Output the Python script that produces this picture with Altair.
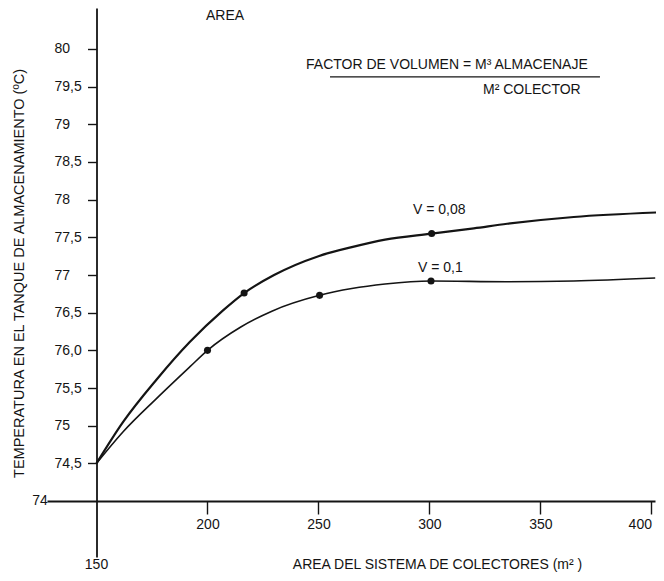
import altair as alt
import pandas as pd

# ---- data ----
x_v008 = [150, 162, 177, 192, 207, 216.5, 230, 250, 265, 280, 301, 320, 335, 365, 402.5]
y_v008 = [74.50, 75.05, 75.61, 76.11, 76.53, 76.76, 77.00, 77.25, 77.37, 77.47, 77.55, 77.62, 77.68, 77.77, 77.83]
x_v01 = [150, 162, 177, 192, 200, 215, 229, 250.5, 265, 280, 300.7, 335, 365, 401.7]
y_v01 = [74.50, 74.92, 75.36, 75.78, 76.00, 76.31, 76.52, 76.73, 76.82, 76.88, 76.92, 76.91, 76.92, 76.96]

pts_v008_x = [216.5, 301]
pts_v008_y = [76.76, 77.55]
pts_v01_x = [200, 250.5, 300.7]
pts_v01_y = [76.00, 76.73, 76.92]

x_ticks = [200, 250, 300, 350, 400]
y_ticks = [74.5, 75, 75.5, 76, 76.5, 77, 77.5, 78, 78.5, 79, 79.5, 80]

series_names = ["V = 0,08", "V = 0,1"]

FONT = "Liberation Sans"
INK = "#141414"

lines = pd.DataFrame(
    [{"x": a, "y": b, "s": series_names[0]} for a, b in zip(x_v008, y_v008)]
    + [{"x": a, "y": b, "s": series_names[1]} for a, b in zip(x_v01, y_v01)]
)
points = pd.DataFrame(
    [{"x": a, "y": b} for a, b in zip(pts_v008_x, pts_v008_y)]
    + [{"x": a, "y": b} for a, b in zip(pts_v01_x, pts_v01_y)]
)

xscale = alt.Scale(domain=[127.7, 401.6], nice=False, zero=False)
yscale = alt.Scale(domain=[73.257, 80.544], nice=False, zero=False)

xaxis = alt.Axis(
    values=x_ticks, grid=False, offset=-56, tickSize=13, tickWidth=1.4,
    tickColor=INK, domainColor=INK, domainWidth=1.8,
    labelFont=FONT, labelFontSize=14, labelColor=INK, labelPadding=3,
    labelFlush=10,
    title="AREA DEL SISTEMA DE COLECTORES (m² )", titleFont=FONT,
    titleFontSize=14, titleFontWeight="normal", titleColor=INK,
    titleX=390, titleY=63, titleAlign="center", titleBaseline="middle",
)
yaxis = alt.Axis(
    values=y_ticks, grid=False, offset=-49.5, tickSize=9, tickWidth=1.4,
    tickColor=INK, domainColor=INK, domainWidth=1.8,
    labelFont=FONT, labelFontSize=14, labelColor=INK, labelPadding=33.5,
    labelAlign="left", labelBaseline="middle",
    labelExpr="datum.value == 76 ? '76,0' : replace(toString(datum.value), '.', ',')",
    title="TEMPERATURA EN EL TANQUE DE ALMACENAMIENTO (ºC)", titleFont=FONT,
    titleFontSize=14.5, titleFontWeight="normal", titleColor=INK,
    titleX=-77.5, titleY=265, titleAngle=-90, titleAlign="center",
    titleBaseline="middle",
)

line_layer = alt.Chart(lines).mark_line(interpolate="monotone", color=INK).encode(
    x=alt.X("x:Q", scale=xscale, axis=xaxis),
    y=alt.Y("y:Q", scale=yscale, axis=yaxis),
    detail="s:N",
    strokeWidth=alt.StrokeWidth("s:N", scale=alt.Scale(domain=series_names, range=[2.2, 1.6]), legend=None),
)

point_layer = alt.Chart(points).mark_point(filled=True, shape="circle", size=50, color=INK, opacity=1).encode(
    x=alt.X("x:Q", scale=xscale), y=alt.Y("y:Q", scale=yscale)
)

# annotations (text positions in data units)
ann_left = pd.DataFrame([
    {"x": 199.3, "y": 80.44, "t": "AREA"},
    {"x": 244.4, "y": 79.79, "t": "FACTOR DE VOLUMEN = M³ ALMACENAJE"},
    {"x": 324.1, "y": 79.46, "t": "M² COLECTOR"},
    {"x": 292.6, "y": 77.86, "t": series_names[0]},
    {"x": 294.8, "y": 77.09, "t": series_names[1]},
    {"x": 121.0, "y": 74.0, "t": "74"},
])
ann_center = pd.DataFrame([{"x": 150, "y": 73.157, "t": "150"}])

text_left = alt.Chart(ann_left).mark_text(
    align="left", baseline="middle", font=FONT, fontSize=14, color=INK
).encode(x=alt.X("x:Q", scale=xscale), y=alt.Y("y:Q", scale=yscale), text="t:N")

text_center = alt.Chart(ann_center).mark_text(
    align="center", baseline="middle", font=FONT, fontSize=14, color=INK
).encode(x=alt.X("x:Q", scale=xscale), y=alt.Y("y:Q", scale=yscale), text="t:N")

frac = pd.DataFrame([{"x": 255.2, "x2": 376.8, "y": 79.63}])
frac_layer = alt.Chart(frac).mark_rule(color=INK, strokeWidth=1.3).encode(
    x=alt.X("x:Q", scale=xscale), x2="x2:Q", y=alt.Y("y:Q", scale=yscale)
)

chart = alt.layer(line_layer, point_layer, text_left, text_center, frac_layer).properties(
    width=608, height=549,
    background="white",
    autosize=alt.AutoSizeParams(type="none"),
    padding={"left": 39, "top": 0, "right": 1, "bottom": 16},
).configure_view(stroke=None)

chart.save("out.html", embed_options={"renderer": "svg", "actions": False})
